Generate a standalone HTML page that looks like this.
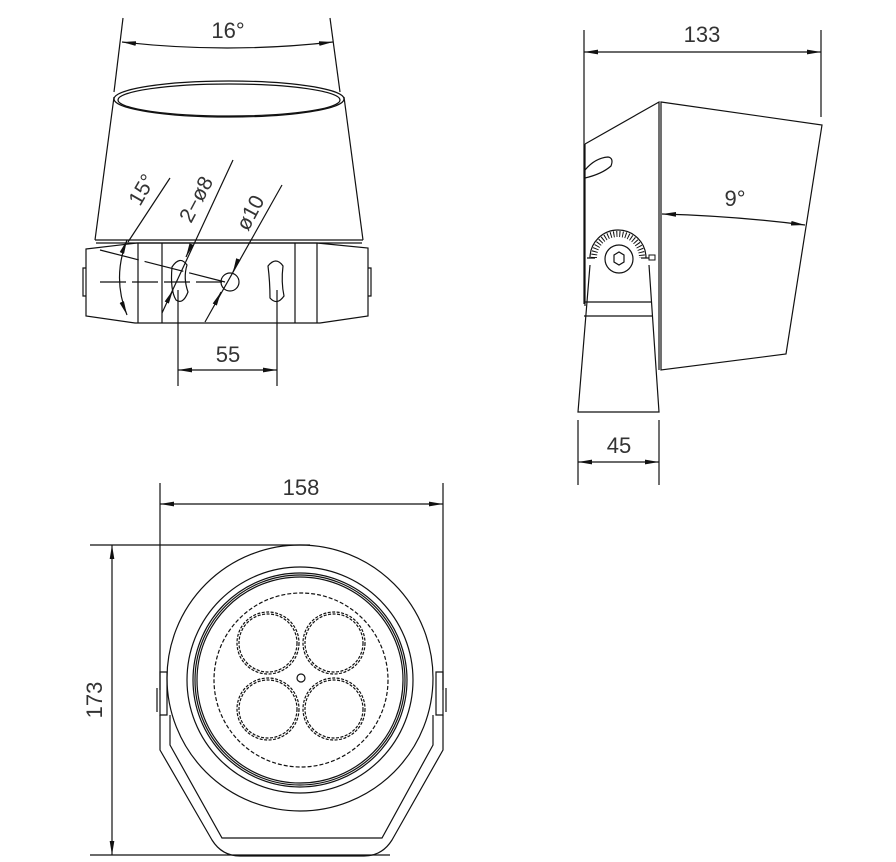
<!DOCTYPE html>
<html><head><meta charset="utf-8"><style>html,body{margin:0;background:#fff}svg{display:block}text{font-family:"Liberation Sans",sans-serif;fill:#333}</style></head><body>
<svg width="896" height="862" viewBox="0 0 896 862" xmlns="http://www.w3.org/2000/svg" fill="none" stroke="#111" stroke-width="1.2">
<defs><marker id="a" viewBox="0 0 12 4" refX="12" refY="2" markerWidth="14" markerHeight="5" orient="auto-start-reverse" markerUnits="userSpaceOnUse"><path d="M0,0L12,2L0,4z" fill="#111" stroke="none"/></marker></defs>

<!-- TOP LEFT VIEW -->
<line x1="123" y1="18" x2="114" y2="92"/><line x1="330" y1="18" x2="340" y2="92"/>
<path d="M122,42 Q227,54 333,42" marker-start="url(#a)" marker-end="url(#a)"/>
<text x="228" y="38" font-size="22" text-anchor="middle" stroke="none">16°</text>
<ellipse cx="229" cy="99" rx="115" ry="18"/><ellipse cx="229" cy="100" rx="111" ry="16"/>
<path d="M114,97 L95,240 M344,97 L363,240"/>
<path d="M95,240 L363,240 M96,243 L362,243"/>
<path d="M86,249 L137,243 L317,243 L368,248 L368,316 L320,323 L135,323 L86,316 Z"/>
<path d="M138,243V323 M162,243V323 M295,243V323 M317,243V323"/>
<path d="M86,268 H83 V296 H86 M368,268 H371 V296 H368"/>
<path d="M172,267 Q180,255 187,265 Q183,278 188,292 Q183,305 176,300 Q170,290 172,267 Z"/>
<path d="M268,266 Q276,256 283,266 Q281,282 284,296 Q277,306 270,298 Q270,282 268,266 Z"/>
<circle cx="230" cy="282" r="9"/>
<path d="M100,282 H225" stroke-dasharray="26 6"/>
<path d="M100,250 L225,282" stroke-dasharray="40 6"/>
<path d="M127,240 Q112,278 127,315" marker-start="url(#a)" marker-end="url(#a)"/>
<line x1="128" y1="242" x2="170" y2="178"/>
<line x1="233" y1="160" x2="162" y2="313"/>
<path d="M190,248 L186,257" marker-end="url(#a)"/><path d="M168,300 L173,290" marker-end="url(#a)"/>
<line x1="282" y1="185" x2="205" y2="322"/>
<path d="M238,260 L233,272" marker-end="url(#a)"/><path d="M215,304 L221,292" marker-end="url(#a)"/>
<text transform="translate(140,207) rotate(-60)" font-size="21" stroke="none">15°</text>
<text transform="translate(191,224) rotate(-62)" font-size="21" stroke="none">2−ø8</text>
<text transform="translate(248,232) rotate(-62)" font-size="21" stroke="none">ø10</text>
<line x1="178" y1="290" x2="178" y2="386"/><line x1="277" y1="290" x2="277" y2="386"/>
<line x1="178" y1="370" x2="277" y2="370" marker-start="url(#a)" marker-end="url(#a)"/>
<text x="228" y="362" font-size="22" text-anchor="middle" stroke="none">55</text>

<!-- RIGHT VIEW -->
<line x1="584" y1="30" x2="584" y2="304"/><line x1="821" y1="30" x2="821" y2="117"/>
<line x1="584" y1="52" x2="821" y2="52" marker-start="url(#a)" marker-end="url(#a)"/>
<text x="702" y="42" font-size="22" text-anchor="middle" stroke="none">133</text>
<path d="M585,144 L659,102 L659,370"/>
<path d="M661,102 L822,125 L786,354 L661,370 Z"/>
<line x1="585" y1="144" x2="585" y2="306"/>
<path d="M585,170 Q595,158 608,157 Q614,158 611,166 Q602,174 585,178"/>
<path d="M662,214 Q735,216 805,225" marker-start="url(#a)" marker-end="url(#a)"/>
<text x="735" y="206" font-size="22" text-anchor="middle" stroke="none">9°</text>
<path d="M590,258 A28,28 0 0 1 646,258"/>
<path d="M594,258 A24,24 0 0 1 642,258" stroke-width="6" stroke-dasharray="1 2"/>
<path d="M587,258 H595 M641,258 H649"/>
<rect x="649" y="255" width="6" height="5" stroke-width="1"/>
<circle cx="619" cy="259" r="14"/>
<path d="M614,255 L619,252 L624,255 L624,262 L619,265 L614,262Z"/>
<path d="M590,265 L578,412 L659,412 L649,265"/>
<path d="M585,302 H651 M584,316 H652"/>
<line x1="578" y1="420" x2="578" y2="485"/><line x1="659" y1="420" x2="659" y2="485"/>
<line x1="578" y1="462" x2="659" y2="462" marker-start="url(#a)" marker-end="url(#a)"/>
<text x="619" y="453" font-size="22" text-anchor="middle" stroke="none">45</text>

<!-- BOTTOM VIEW -->
<line x1="160" y1="483" x2="160" y2="690"/><line x1="443" y1="483" x2="443" y2="690"/>
<line x1="160" y1="504" x2="443" y2="504" marker-start="url(#a)" marker-end="url(#a)"/>
<text x="301" y="495" font-size="22" text-anchor="middle" stroke="none">158</text>
<line x1="90" y1="545" x2="310" y2="545"/><line x1="90" y1="855" x2="390" y2="855"/>
<line x1="112" y1="545" x2="112" y2="855" marker-start="url(#a)" marker-end="url(#a)"/>
<text transform="translate(102,700) rotate(-90)" font-size="22" text-anchor="middle" stroke="none">173</text>
<circle cx="300" cy="678" r="133"/>
<circle cx="300" cy="680" r="113"/>
<circle cx="300" cy="680" r="107"/><circle cx="300" cy="680" r="105"/><circle cx="300" cy="680" r="103"/>
<circle cx="301" cy="680" r="87" stroke-dasharray="4 2"/>
<g stroke-dasharray="3 1.5">
<circle cx="268" cy="643" r="31"/><circle cx="268" cy="643" r="29"/>
<circle cx="334" cy="643" r="31"/><circle cx="334" cy="643" r="29"/>
<circle cx="268" cy="709" r="31"/><circle cx="268" cy="709" r="29"/>
<circle cx="334" cy="709" r="31"/><circle cx="334" cy="709" r="29"/>
</g>
<circle cx="301" cy="678" r="4"/>
<path d="M160,672 H167 V715 H160 Z M443,672 H436 V715 H443 Z"/>
<path d="M157,688 V712 M446,688 V712"/>
<path d="M160,715 V750 L212,840 Q222,856 240,856 L364,856 Q382,856 392,840 L443,750 V715"/>
<path d="M170,715 V745 L222,838 H382 L433,745 V715"/>
</svg>
</body></html>
